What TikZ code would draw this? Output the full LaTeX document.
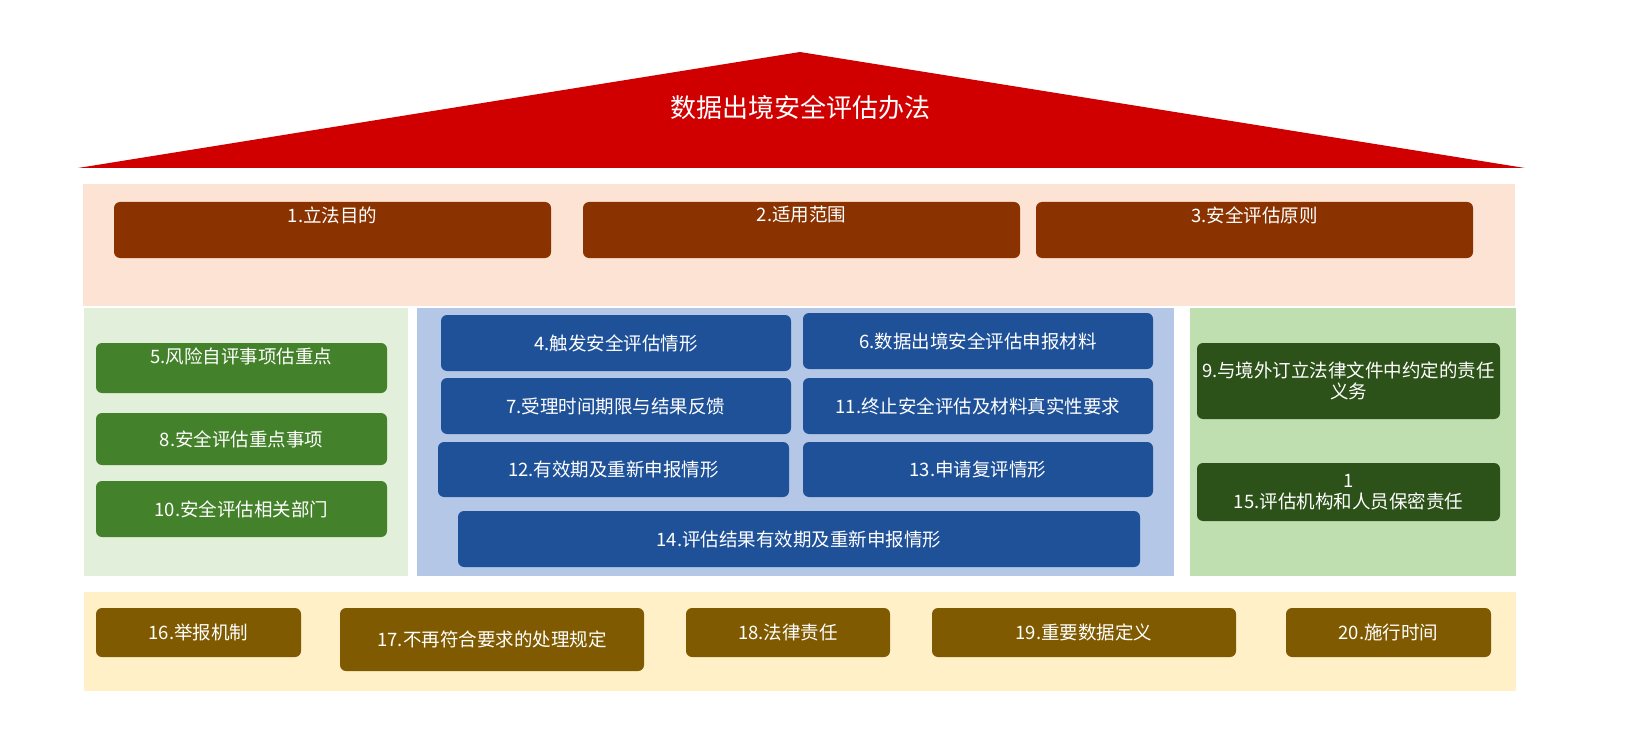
\documentclass[tikz,border=0pt]{standalone}
\usepackage{fontspec}
\setmainfont{Noto Sans CJK SC}
\definecolor{tred}{HTML}{D00000}
\definecolor{peach}{HTML}{FDE3D3}
\definecolor{brownb}{HTML}{8B3300}
\definecolor{lgreen}{HTML}{E2EFDA}
\definecolor{gbtn}{HTML}{43812A}
\definecolor{lblue}{HTML}{B4C7E7}
\definecolor{bbtn}{HTML}{1F5199}
\definecolor{rgreen}{HTML}{C0DFB0}
\definecolor{dgbtn}{HTML}{2D5219}
\definecolor{ylw}{HTML}{FFF0C8}
\definecolor{obtn}{HTML}{7F5A00}
\newcommand{\bx}[6]{\fill[#1,btn] (#2,#3) rectangle (#4,#5);%
  \node[lbl] at ({(#2+#4)/2},{(#3+#5)/2}) {#6};}
\newcommand{\bxt}[7]{\fill[#1,btn] (#2,#3) rectangle (#4,#5);%
  \node[lbl] at ({(#2+#4)/2},#6) {#7};}
\begin{document}
\begin{tikzpicture}[x=1pt,y=-1pt,
  btn/.style={rounded corners=6pt,draw=none},
  lbl/.style={text=white,font=\fontsize{18.5}{21}\selectfont,align=center,inner sep=0pt}]
\fill[white] (0,0) rectangle (1638,746);
\fill[tred] (78,168) -- (800,52) -- (1525,168) -- cycle;
\node[text=white,font=\fontsize{26}{30}\selectfont] (title) at (800,108) {数据出境安全评估办法};
\fill[peach] (83,184) rectangle (1515,306);
\bxt{brownb}{114}{202}{551}{258}{215}{1.立法目的}
\bxt{brownb}{583}{202}{1020}{258}{215}{2.适用范围}
\bxt{brownb}{1036}{202}{1473}{258}{215}{3.安全评估原则}
\fill[lgreen] (84,308) rectangle (408,576);
\bxt{gbtn}{96}{343}{387}{393}{356}{5.风险自评事项估重点}
\bx{gbtn}{96}{413}{387}{465}{8.安全评估重点事项}
\bx{gbtn}{96}{481}{387}{537}{10.安全评估相关部门}
\fill[lblue] (417,308) rectangle (1174,576);
\bx{bbtn}{441}{315}{791}{371}{4.触发安全评估情形}
\bx{bbtn}{803}{313}{1153}{369}{6.数据出境安全评估申报材料}
\bx{bbtn}{441}{378}{791}{434}{7.受理时间期限与结果反馈}
\bx{bbtn}{803}{378}{1153}{434}{11.终止安全评估及材料真实性要求}
\bx{bbtn}{438}{442}{789}{497}{12.有效期及重新申报情形}
\bx{bbtn}{803}{442}{1153}{497}{13.申请复评情形}
\bx{bbtn}{458}{511}{1140}{567}{14.评估结果有效期及重新申报情形}
\fill[rgreen] (1190,308) rectangle (1516,576);
\bx{dgbtn}{1197}{343}{1500}{419}{9.与境外订立法律文件中约定的责任\\义务}
\bx{dgbtn}{1197}{463}{1500}{521}{1\\15.评估机构和人员保密责任}
\fill[ylw] (84,592) rectangle (1516,691);
\bx{obtn}{96}{608}{301}{657}{16.举报机制}
\bx{obtn}{340}{608}{644}{671}{17.不再符合要求的处理规定}
\bx{obtn}{686}{608}{890}{657}{18.法律责任}
\bx{obtn}{932}{608}{1236}{657}{19.重要数据定义}
\bx{obtn}{1286}{608}{1491}{657}{20.施行时间}
\pgfresetboundingbox
\useasboundingbox (0,0) rectangle (1638,746);
\end{tikzpicture}
\end{document}
